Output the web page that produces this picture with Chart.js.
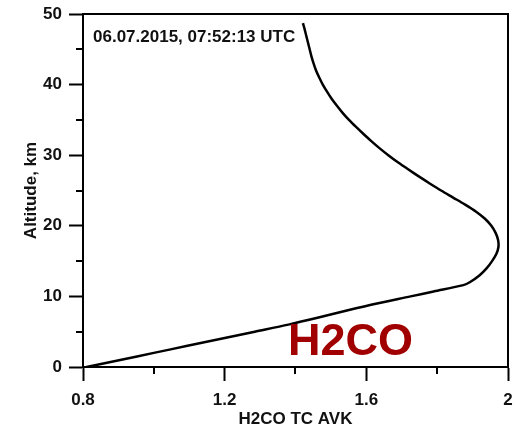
<!DOCTYPE html>
<html>
<head>
<meta charset="utf-8">
<script src="https://cdn.jsdelivr.net/npm/chart.js@4/dist/chart.umd.min.js"></script>
<style>
  html, body { margin: 0; padding: 0; background: #fff; }
  #c { display: block; }
</style>
</head>
<body>
<canvas id="c" width="513" height="427"></canvas>
<script>
// Total-column averaging kernel profile for H2CO
const altitudeKm = [0, 1, 2, 3, 4, 5, 6, 7, 8, 9, 10, 10.7, 11.6, 12, 13, 14, 15, 16, 17, 18, 19, 20, 21, 22, 23, 24, 25, 26, 27, 28, 29, 30, 31, 32, 33, 34, 35, 36, 37, 38, 39, 40, 41, 42, 43, 44, 45, 46, 47, 48, 48.7];
const avkValues  = [0.81, 0.905, 1.0, 1.095, 1.19, 1.285, 1.38, 1.465, 1.545, 1.63, 1.725, 1.79, 1.874, 1.892, 1.92, 1.94, 1.955, 1.967, 1.973, 1.972, 1.965, 1.953, 1.935, 1.910, 1.879, 1.845, 1.811, 1.779, 1.748, 1.718, 1.689, 1.662, 1.637, 1.614, 1.592, 1.571, 1.551, 1.533, 1.517, 1.502, 1.489, 1.477, 1.467, 1.458, 1.451, 1.445, 1.440, 1.435, 1.430, 1.425, 1.421];

const xTickValues = [0.8, 1.2, 1.6, 2.0];
const xMinorTicks = [1.0, 1.4, 1.8];
const yTickValues = [0, 10, 20, 30, 40, 50];
const yMinorTicks = [5, 15, 25, 35, 45];

const timestampLabel = '06.07.2015, 07:52:13 UTC';
const speciesLabel = 'H2CO';

const FONT = '"Liberation Sans", Arial, Helvetica, sans-serif';

const points = altitudeKm.map((a, i) => ({ x: avkValues[i], y: a }));

// Frame, minor ticks and text labels
const decorations = {
  id: 'decorations',
  afterDraw(chart) {
    const { ctx, chartArea: ca, scales } = chart;
    const xs = scales.x, ys = scales.y;
    ctx.save();
    ctx.strokeStyle = '#000';
    ctx.lineWidth = 2;
    ctx.beginPath();
    ctx.moveTo(ca.left, ca.top);
    ctx.lineTo(ca.right, ca.top);
    ctx.lineTo(ca.right, ca.bottom);
    ctx.stroke();

    ctx.beginPath();
    yMinorTicks.forEach(v => {
      const py = Math.round(ys.getPixelForValue(v));
      ctx.moveTo(ca.left - 7, py);
      ctx.lineTo(ca.left, py);
    });
    xMinorTicks.forEach(v => {
      const px = Math.round(xs.getPixelForValue(v));
      ctx.moveTo(px, ca.bottom);
      ctx.lineTo(px, ca.bottom + 7);
    });
    ctx.stroke();

    ctx.fillStyle = '#111';
    ctx.font = 'bold 17px ' + FONT;
    ctx.textAlign = 'left';
    ctx.textBaseline = 'middle';
    ctx.fillText(timestampLabel, ca.left + 10, ca.top + 23);

    ctx.fillStyle = '#a00000';
    ctx.font = 'bold 45px ' + FONT;
    ctx.textBaseline = 'alphabetic';
    ctx.fillText(speciesLabel, 288, 355);
    ctx.restore();
  }
};

new Chart(document.getElementById('c'), {
  type: 'scatter',
  data: {
    datasets: [{
      data: points,
      showLine: true,
      borderColor: '#000',
      borderWidth: 2.5,
      pointRadius: 0,
      tension: 0.3,
      fill: false
    }]
  },
  options: {
    responsive: false,
    animation: false,
    events: [],
    layout: { padding: 0 },
    plugins: { legend: { display: false }, tooltip: { enabled: false } },
    scales: {
      x: {
        type: 'linear',
        min: 0.8,
        max: 2.0,
        afterBuildTicks: s => { s.ticks = xTickValues.map(v => ({ value: v })); },
        afterFit: s => { s.height = 60; s.paddingLeft = 0; s.paddingRight = 5; },
        grid: { drawOnChartArea: false, drawTicks: true, tickLength: 14, tickColor: '#000', tickWidth: 2 },
        border: { display: true, color: '#000', width: 2 },
        ticks: {
          color: '#111',
          padding: 9,
          maxRotation: 0,
          font: { family: FONT, size: 17, weight: 'bold' },
          callback: v => String(Number(v.toFixed(1)))
        },
        title: {
          display: true,
          text: 'H2CO TC AVK',
          color: '#111',
          padding: { top: 0, bottom: -1 },
          font: { family: FONT, size: 17, weight: 'bold', lineHeight: 1 }
        }
      },
      y: {
        type: 'linear',
        min: 0,
        max: 50,
        afterBuildTicks: s => { s.ticks = yTickValues.map(v => ({ value: v })); },
        afterFit: s => { s.width = 83; s.paddingTop = 14; s.paddingBottom = 0; },
        grid: { drawOnChartArea: false, drawTicks: true, tickLength: 14, tickColor: '#000', tickWidth: 2 },
        border: { display: true, color: '#000', width: 2 },
        ticks: {
          color: '#111',
          padding: 7,
          font: { family: FONT, size: 17, weight: 'bold' }
        },
        title: {
          display: true,
          text: 'Altitude, km',
          color: '#111',
          padding: { top: 23, bottom: 0 },
          font: { family: FONT, size: 17, weight: 'bold', lineHeight: 1 }
        }
      }
    }
  },
  plugins: [decorations]
});
</script>
</body>
</html>
